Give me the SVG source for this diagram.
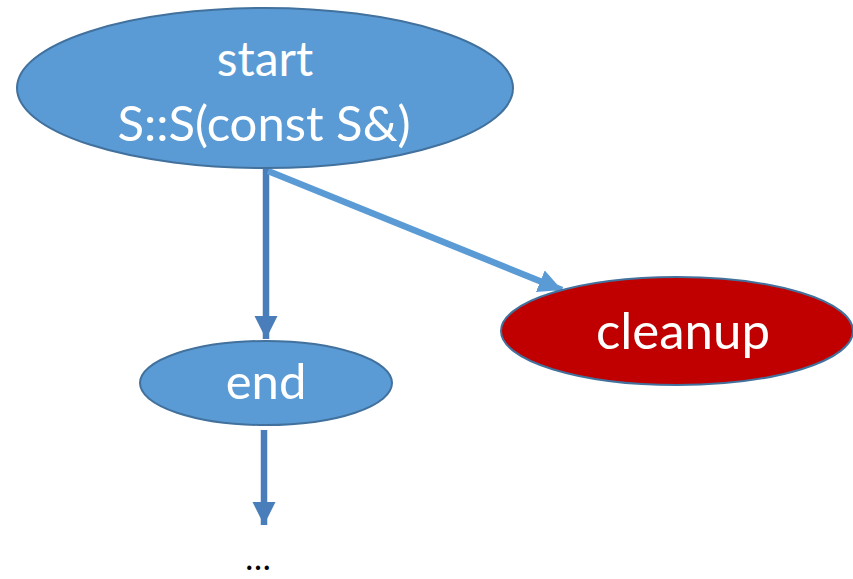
<svg xmlns="http://www.w3.org/2000/svg" width="853" height="579" viewBox="0 0 853 579">
<defs>
<style>
.lbl{font-family:Lato,"Open Sans","Liberation Sans",sans-serif;fill:#ffffff;text-anchor:middle}
.node{stroke:#41719c;stroke-width:2}
</style>
<marker id="ahd" viewBox="0 0 10 10" refX="10" refY="5" markerWidth="3.6" markerHeight="3.6" orient="auto" markerUnits="strokeWidth"><path d="M0,0L10,5L0,10z" fill="#4a7ebb"/></marker>
<marker id="ahl" viewBox="0 0 10 10" refX="10" refY="5" markerWidth="3.6" markerHeight="3.6" orient="auto" markerUnits="strokeWidth"><path d="M0,0L10,5L0,10z" fill="#5b9bd5"/></marker>
</defs>
<rect width="853" height="579" fill="#ffffff"/>
<g id="connectors" fill="none" stroke-width="6.5">
<line x1="266" y1="168" x2="266" y2="339" stroke="#4a7ebb" marker-end="url(#ahd)"/>
<line x1="268" y1="171" x2="562" y2="290" stroke="#5b9bd5" marker-end="url(#ahl)"/>
<line x1="264" y1="430" x2="264" y2="525" stroke="#4a7ebb" marker-end="url(#ahd)"/>
</g>
<g id="start">
<ellipse class="node" cx="265" cy="88" rx="248" ry="80" fill="#5b9bd5"/>
<text class="lbl" x="265" y="76" font-size="48">start</text>
<text class="lbl" x="264" y="141" font-size="49">S::S(const S&amp;)</text>
</g>
<g id="cleanup">
<ellipse class="node" cx="677" cy="331" rx="176" ry="54" fill="#c00000"/>
<text class="lbl" x="683" y="349" font-size="51">cleanup</text>
</g>
<g id="end">
<ellipse class="node" cx="266" cy="383" rx="126" ry="42" fill="#5b9bd5"/>
<text class="lbl" x="266" y="399" font-size="49">end</text>
</g>
<g id="ellipsis">
<text x="258" y="570" font-family="Lato,'Liberation Sans',sans-serif" font-size="34" text-anchor="middle" fill="#000000">…</text>
</g>
</svg>
